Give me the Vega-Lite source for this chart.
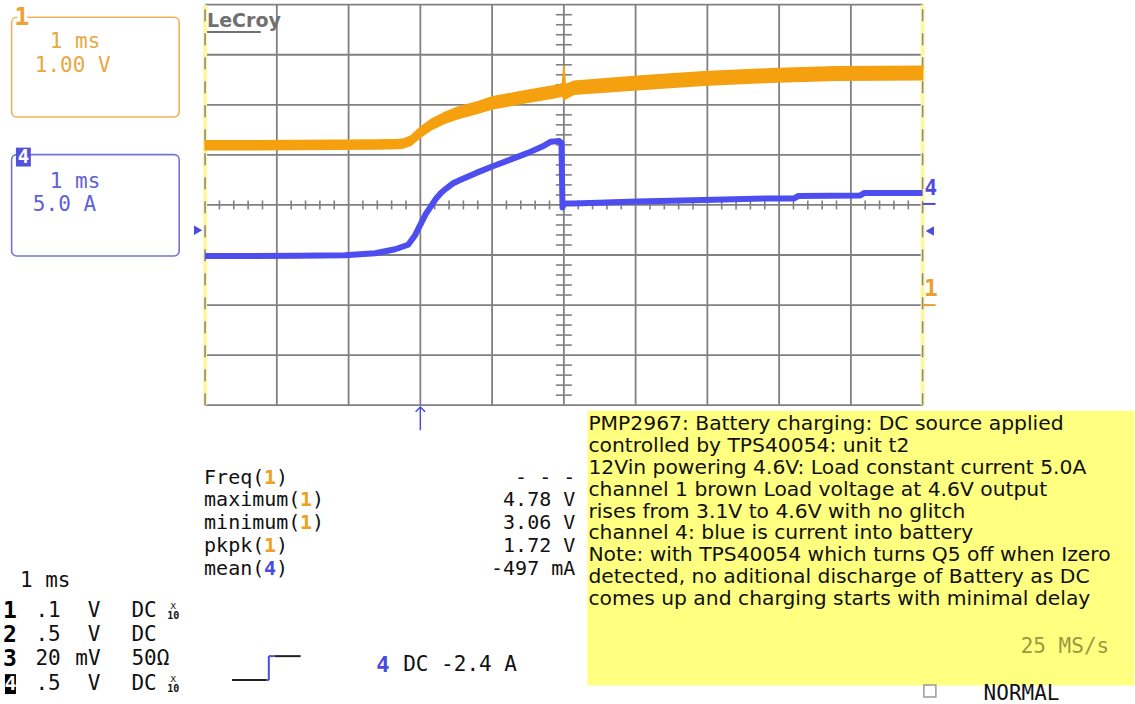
{
  "$schema": "https://vega.github.io/schema/vega-lite/v6.json",
  "width": 1135,
  "height": 704,
  "autosize": {"type": "fit", "contains": "padding"},
  "padding": 0,
  "background": "#ffffff",
  "config": {"view": {"stroke": null}},
  "datasets": {
    "one": [{}],
    "ch1": [
      {"t": -3.0, "lo": 3.1, "hi": 3.28}, {"t": -1.7, "lo": 3.105, "hi": 3.285}, {"t": -0.59, "lo": 3.115, "hi": 3.295},
      {"t": -0.31, "lo": 3.125, "hi": 3.305}, {"t": -0.24, "lo": 3.135, "hi": 3.315}, {"t": -0.13, "lo": 3.19, "hi": 3.38},
      {"t": -0.01, "lo": 3.34, "hi": 3.54}, {"t": 0.15, "lo": 3.5, "hi": 3.71}, {"t": 0.34, "lo": 3.63, "hi": 3.85},
      {"t": 0.52, "lo": 3.72, "hi": 3.95}, {"t": 0.8, "lo": 3.83, "hi": 4.06}, {"t": 1.01, "lo": 3.92, "hi": 4.16},
      {"t": 1.5, "lo": 4.05, "hi": 4.29}, {"t": 1.91, "lo": 4.15, "hi": 4.39}, {"t": 1.98, "lo": 4.18, "hi": 4.42},
      {"t": 2.0, "lo": 4.1, "hi": 4.78}, {"t": 2.02, "lo": 4.12, "hi": 4.4}, {"t": 2.14, "lo": 4.21, "hi": 4.47},
      {"t": 3.02, "lo": 4.3, "hi": 4.57}, {"t": 3.95, "lo": 4.39, "hi": 4.66}, {"t": 4.87, "lo": 4.45, "hi": 4.72},
      {"t": 5.8, "lo": 4.49, "hi": 4.76}, {"t": 7.0, "lo": 4.5, "hi": 4.77}
    ],
    "ch4": [
      {"t": -3.0, "a": -5.1}, {"t": -1.7, "a": -5.08}, {"t": -1.05, "a": -5.03}, {"t": -0.63, "a": -4.83},
      {"t": -0.35, "a": -4.43}, {"t": -0.17, "a": -3.98}, {"t": -0.08, "a": -3.11}, {"t": 0.015, "a": -1.77},
      {"t": 0.08, "a": -0.85}, {"t": 0.15, "a": -0.12}, {"t": 0.22, "a": 0.65}, {"t": 0.29, "a": 1.22},
      {"t": 0.36, "a": 1.64}, {"t": 0.45, "a": 2.14}, {"t": 0.57, "a": 2.54}, {"t": 0.78, "a": 3.2},
      {"t": 1.01, "a": 3.87}, {"t": 1.29, "a": 4.63}, {"t": 1.5, "a": 5.2}, {"t": 1.7, "a": 5.83},
      {"t": 1.82, "a": 6.32}, {"t": 1.935, "a": 6.38}, {"t": 1.967, "a": 6.18}, {"t": 1.981, "a": -0.25},
      {"t": 1.995, "a": 0.05}, {"t": 2.03, "a": 0.15}, {"t": 2.14, "a": 0.15}, {"t": 3.02, "a": 0.35},
      {"t": 3.95, "a": 0.5}, {"t": 4.87, "a": 0.65}, {"t": 5.21, "a": 0.65}, {"t": 5.27, "a": 0.9},
      {"t": 6.13, "a": 0.95}, {"t": 6.19, "a": 1.2}, {"t": 7.0, "a": 1.2}
    ],
    "vgrid": [{"t": -2}, {"t": -1}, {"t": 0}, {"t": 1}, {"t": 2}, {"t": 3}, {"t": 4}, {"t": 5}, {"t": 6}],
    "hgrid": [{"d": -4}, {"d": -3}, {"d": -2}, {"d": -1}, {"d": 0}, {"d": 1}, {"d": 2}, {"d": 3}, {"d": 4}],
    "edges": [{"t": -3}, {"t": 7}],
    "hticks": [
      {"t": -2.8}, {"t": -2.6}, {"t": -2.4}, {"t": -2.2}, {"t": -1.8}, {"t": -1.6}, {"t": -1.4}, {"t": -1.2},
      {"t": -0.8}, {"t": -0.6}, {"t": -0.4}, {"t": -0.2}, {"t": 0.2}, {"t": 0.4}, {"t": 0.6}, {"t": 0.8},
      {"t": 1.2}, {"t": 1.4}, {"t": 1.6}, {"t": 1.8}, {"t": 2.2}, {"t": 2.4}, {"t": 2.6}, {"t": 2.8},
      {"t": 3.2}, {"t": 3.4}, {"t": 3.6}, {"t": 3.8}, {"t": 4.2}, {"t": 4.4}, {"t": 4.6}, {"t": 4.8},
      {"t": 5.2}, {"t": 5.4}, {"t": 5.6}, {"t": 5.8}, {"t": 6.2}, {"t": 6.4}, {"t": 6.6}, {"t": 6.8}
    ],
    "vticks": [
      {"d": -3.8}, {"d": -3.6}, {"d": -3.4}, {"d": -3.2}, {"d": -2.8}, {"d": -2.6}, {"d": -2.4}, {"d": -2.2},
      {"d": -1.8}, {"d": -1.6}, {"d": -1.4}, {"d": -1.2}, {"d": -0.8}, {"d": -0.6}, {"d": -0.4}, {"d": -0.2},
      {"d": 0.2}, {"d": 0.4}, {"d": 0.6}, {"d": 0.8}, {"d": 1.2}, {"d": 1.4}, {"d": 1.6}, {"d": 1.8},
      {"d": 2.2}, {"d": 2.4}, {"d": 2.6}, {"d": 2.8}, {"d": 3.2}, {"d": 3.4}, {"d": 3.6}, {"d": 3.8}
    ],
    "boxtext": [
      {"txt": "1 ms", "t": -5.165, "d": 3.257, "ch": "1"},
      {"txt": "1.00 V", "t": -5.373, "d": 2.779, "ch": "1"},
      {"txt": "1 ms", "t": -5.165, "d": 0.468, "ch": "4"},
      {"txt": "5.0 A", "t": -5.4, "d": -0.01, "ch": "4"}
    ],
    "note": [
      {"line": "PMP2967: Battery charging: DC source applied", "d": -4.492},
      {"line": "controlled by TPS40054: unit t2", "d": -4.93},
      {"line": "12Vin powering 4.6V: Load constant current 5.0A", "d": -5.368},
      {"line": "channel 1 brown Load voltage at 4.6V output", "d": -5.806},
      {"line": "rises from 3.1V to 4.6V with no glitch", "d": -6.245},
      {"line": "channel 4: blue is current into battery", "d": -6.683},
      {"line": "Note: with TPS40054 which turns Q5 off when Izero", "d": -7.121},
      {"line": "detected, no aditional discharge of Battery as DC", "d": -7.559},
      {"line": "comes up and charging starts with minimal delay", "d": -7.998}
    ],
    "meas": [
      {"label": "Freq(", "ch": "1", "value": "- - -", "d": -5.568, "tc": -2.1787, "tp": -2.0117},
      {"label": "maximum(", "ch": "1", "value": "4.78 V", "d": -6.016, "tc": -1.6775, "tp": -1.5104},
      {"label": "minimum(", "ch": "1", "value": "3.06 V", "d": -6.474, "tc": -1.6775, "tp": -1.5104},
      {"label": "pkpk(", "ch": "1", "value": "1.72 V", "d": -6.932, "tc": -2.1787, "tp": -2.0117},
      {"label": "mean(", "ch": "4", "value": "-497 mA", "d": -7.39, "tc": -2.1787, "tp": -2.0117}
    ],
    "setup": [
      {"ch": "1", "val": ".1", "unit": "V", "cpl": "DC", "probe": "x10", "d": -8.118},
      {"ch": "2", "val": ".5", "unit": "V", "cpl": "DC", "probe": "", "d": -8.596},
      {"ch": "3", "val": "20", "unit": "mV", "cpl": "50Ω", "probe": "", "d": -9.074},
      {"ch": "4", "val": ".5", "unit": "V", "cpl": "DC", "probe": "x10", "d": -9.572}
    ],
    "trig": [
      {"part": "level", "t1": -2.625, "t2": -2.14, "d1": -9.492, "d2": -9.492},
      {"part": "edge", "t1": -2.14, "t2": -2.112, "d1": -9.492, "d2": -9.492},
      {"part": "edge", "t1": -2.112, "t2": -2.112, "d1": -9.492, "d2": -9.014},
      {"part": "edge", "t1": -2.112, "t2": -2.029, "d1": -9.014, "d2": -9.014},
      {"part": "level", "t1": -2.029, "t2": -1.668, "d1": -9.014, "d2": -9.014}
    ]
  },
  "layer": [
    {
      "layer": [
        {
          "data": {"name": "one"},
          "mark": {"type": "rect", "color": "#ffff80"},
          "encoding": {
            "x": {"datum": 2.328, "type": "quantitative", "scale": {"domain": [-5.858, 9.89], "nice": false, "zero": false}, "axis": null},
            "x2": {"datum": 9.95},
            "y": {"datum": -4.114, "type": "quantitative", "scale": {"domain": [-9.93, 4.094], "nice": false, "zero": false}, "axis": null},
            "y2": {"datum": -9.6}
          }
        },
        {
          "data": {"name": "vgrid"},
          "mark": {"type": "rule", "color": "#808080", "strokeWidth": 1.8},
          "encoding": {
            "x": {"field": "t", "type": "quantitative", "scale": {"domain": [-5.858, 9.89], "nice": false, "zero": false}, "axis": null},
            "y": {"datum": -4, "type": "quantitative", "scale": {"domain": [-9.93, 4.094], "nice": false, "zero": false}, "axis": null},
            "y2": {"datum": 4}
          }
        },
        {
          "data": {"name": "hgrid"},
          "mark": {"type": "rule", "color": "#808080", "strokeWidth": 1.8},
          "encoding": {
            "y": {"field": "d", "type": "quantitative", "scale": {"domain": [-9.93, 4.094], "nice": false, "zero": false}, "axis": null},
            "x": {"datum": -3, "type": "quantitative", "scale": {"domain": [-5.858, 9.89], "nice": false, "zero": false}, "axis": null},
            "x2": {"datum": 7}
          }
        },
        {
          "data": {"name": "edges"},
          "mark": {"type": "rule", "color": "#fff6a0", "strokeWidth": 4},
          "encoding": {
            "x": {"field": "t", "type": "quantitative", "scale": {"domain": [-5.858, 9.89], "nice": false, "zero": false}, "axis": null},
            "y": {"datum": -4, "type": "quantitative", "scale": {"domain": [-9.93, 4.094], "nice": false, "zero": false}, "axis": null},
            "y2": {"datum": 4}
          }
        },
        {
          "data": {"name": "edges"},
          "mark": {"type": "rule", "color": "#8a8a8a", "strokeWidth": 1.6, "strokeDash": [12, 12]},
          "encoding": {
            "x": {"field": "t", "type": "quantitative", "scale": {"domain": [-5.858, 9.89], "nice": false, "zero": false}, "axis": null},
            "y": {"datum": -4, "type": "quantitative", "scale": {"domain": [-9.93, 4.094], "nice": false, "zero": false}, "axis": null},
            "y2": {"datum": 4}
          }
        },
        {
          "data": {"name": "hticks"},
          "mark": {"type": "tick", "orient": "vertical", "size": 9, "thickness": 1.6, "color": "#808080", "opacity": 1},
          "encoding": {
            "x": {"field": "t", "type": "quantitative", "scale": {"domain": [-5.858, 9.89], "nice": false, "zero": false}, "axis": null},
            "y": {"datum": 0, "type": "quantitative", "scale": {"domain": [-9.93, 4.094], "nice": false, "zero": false}, "axis": null}
          }
        },
        {
          "data": {"name": "vticks"},
          "mark": {"type": "tick", "orient": "horizontal", "size": 16, "thickness": 1.6, "color": "#808080", "opacity": 1},
          "encoding": {
            "y": {"field": "d", "type": "quantitative", "scale": {"domain": [-9.93, 4.094], "nice": false, "zero": false}, "axis": null},
            "x": {"datum": 2, "type": "quantitative", "scale": {"domain": [-5.858, 9.89], "nice": false, "zero": false}, "axis": null}
          }
        },
        {
          "data": {"name": "one"},
          "mark": {"type": "text", "text": "LeCroy", "font": "DejaVu Sans", "fontWeight": "bold", "fontSize": 19, "color": "#707070", "align": "left", "baseline": "alphabetic"},
          "encoding": {
            "x": {"datum": -2.972, "type": "quantitative", "scale": {"domain": [-5.858, 9.89], "nice": false, "zero": false}, "axis": null},
            "y": {"datum": 3.556, "type": "quantitative", "scale": {"domain": [-9.93, 4.094], "nice": false, "zero": false}, "axis": null}
          }
        },
        {
          "data": {"name": "one"},
          "mark": {"type": "rule", "color": "#707070", "strokeWidth": 2},
          "encoding": {
            "x": {"datum": -2.972, "type": "quantitative", "scale": {"domain": [-5.858, 9.89], "nice": false, "zero": false}, "axis": null},
            "x2": {"datum": -2.223},
            "y": {"datum": 3.456, "type": "quantitative", "scale": {"domain": [-9.93, 4.094], "nice": false, "zero": false}, "axis": null}
          }
        },
        {
          "data": {"name": "one"},
          "mark": {"type": "rect", "fill": null, "stroke": "#efb45a", "strokeWidth": 1.6, "cornerRadius": 5},
          "encoding": {
            "x": {"datum": -5.696, "type": "quantitative", "scale": {"domain": [-5.858, 9.89], "nice": false, "zero": false}, "axis": null},
            "x2": {"datum": -3.361},
            "y": {"datum": 3.749, "type": "quantitative", "scale": {"domain": [-9.93, 4.094], "nice": false, "zero": false}, "axis": null},
            "y2": {"datum": 1.757}
          }
        },
        {
          "data": {"name": "one"},
          "mark": {"type": "rect", "fill": null, "stroke": "#7474d6", "strokeWidth": 1.6, "cornerRadius": 5},
          "encoding": {
            "x": {"datum": -5.696, "type": "quantitative", "scale": {"domain": [-5.858, 9.89], "nice": false, "zero": false}, "axis": null},
            "x2": {"datum": -3.361},
            "y": {"datum": 1.006, "type": "quantitative", "scale": {"domain": [-9.93, 4.094], "nice": false, "zero": false}, "axis": null},
            "y2": {"datum": -1.02}
          }
        },
        {
          "data": {"name": "one"},
          "mark": {"type": "text", "text": "1", "font": "DejaVu Sans Mono", "fontWeight": "bold", "fontSize": 25, "color": "#ffffff", "stroke": "#ffffff", "strokeWidth": 6, "align": "center", "baseline": "middle"},
          "encoding": {
            "x": {"datum": -5.553, "type": "quantitative", "scale": {"domain": [-5.858, 9.89], "nice": false, "zero": false}, "axis": null},
            "y": {"datum": 3.755, "type": "quantitative", "scale": {"domain": [-9.93, 4.094], "nice": false, "zero": false}, "axis": null}
          }
        },
        {
          "data": {"name": "one"},
          "mark": {"type": "text", "text": "1", "font": "DejaVu Sans Mono", "fontWeight": "bold", "fontSize": 25, "color": "#eaa338", "align": "center", "baseline": "middle"},
          "encoding": {
            "x": {"datum": -5.553, "type": "quantitative", "scale": {"domain": [-5.858, 9.89], "nice": false, "zero": false}, "axis": null},
            "y": {"datum": 3.755, "type": "quantitative", "scale": {"domain": [-9.93, 4.094], "nice": false, "zero": false}, "axis": null}
          }
        },
        {
          "data": {"name": "one"},
          "mark": {"type": "rect", "color": "#5252d8"},
          "encoding": {
            "x": {"datum": -5.636, "type": "quantitative", "scale": {"domain": [-5.858, 9.89], "nice": false, "zero": false}, "axis": null},
            "x2": {"datum": -5.428},
            "y": {"datum": 1.145, "type": "quantitative", "scale": {"domain": [-9.93, 4.094], "nice": false, "zero": false}, "axis": null},
            "y2": {"datum": 0.767}
          }
        },
        {
          "data": {"name": "one"},
          "mark": {"type": "text", "text": "4", "font": "DejaVu Sans Mono", "fontWeight": "bold", "fontSize": 19, "color": "#ffffff", "align": "center", "baseline": "middle"},
          "encoding": {
            "x": {"datum": -5.532, "type": "quantitative", "scale": {"domain": [-5.858, 9.89], "nice": false, "zero": false}, "axis": null},
            "y": {"datum": 0.956, "type": "quantitative", "scale": {"domain": [-9.93, 4.094], "nice": false, "zero": false}, "axis": null}
          }
        },
        {
          "data": {"name": "boxtext"},
          "transform": [{"filter": "datum.ch === '1'"}],
          "mark": {"type": "text", "font": "DejaVu Sans Mono", "fontSize": 21, "color": "#e8a842", "align": "left", "baseline": "middle"},
          "encoding": {
            "x": {"field": "t", "type": "quantitative", "scale": {"domain": [-5.858, 9.89], "nice": false, "zero": false}, "axis": null},
            "y": {"field": "d", "type": "quantitative", "scale": {"domain": [-9.93, 4.094], "nice": false, "zero": false}, "axis": null},
            "text": {"field": "txt"}
          }
        },
        {
          "data": {"name": "boxtext"},
          "transform": [{"filter": "datum.ch === '4'"}],
          "mark": {"type": "text", "font": "DejaVu Sans Mono", "fontSize": 21, "color": "#5f5fd6", "align": "left", "baseline": "middle"},
          "encoding": {
            "x": {"field": "t", "type": "quantitative", "scale": {"domain": [-5.858, 9.89], "nice": false, "zero": false}, "axis": null},
            "y": {"field": "d", "type": "quantitative", "scale": {"domain": [-9.93, 4.094], "nice": false, "zero": false}, "axis": null},
            "text": {"field": "txt"}
          }
        },
        {
          "data": {"name": "one"},
          "mark": {"type": "point", "shape": "triangle-right", "size": 90, "filled": true, "color": "#4b4be0", "opacity": 1},
          "encoding": {
            "x": {"datum": -3.097, "type": "quantitative", "scale": {"domain": [-5.858, 9.89], "nice": false, "zero": false}, "axis": null},
            "y": {"datum": -0.508, "type": "quantitative", "scale": {"domain": [-9.93, 4.094], "nice": false, "zero": false}, "axis": null}
          }
        },
        {
          "data": {"name": "one"},
          "mark": {"type": "point", "shape": "triangle-left", "size": 90, "filled": true, "color": "#4b4be0", "opacity": 1},
          "encoding": {
            "x": {"datum": 7.1, "type": "quantitative", "scale": {"domain": [-5.858, 9.89], "nice": false, "zero": false}, "axis": null},
            "y": {"datum": -0.522, "type": "quantitative", "scale": {"domain": [-9.93, 4.094], "nice": false, "zero": false}, "axis": null}
          }
        },
        {
          "data": {"name": "one"},
          "mark": {"type": "text", "text": "4", "font": "DejaVu Sans Mono", "fontWeight": "bold", "fontSize": 21, "color": "#4b4be0", "align": "center", "baseline": "middle"},
          "encoding": {
            "x": {"datum": 7.115, "type": "quantitative", "scale": {"domain": [-5.858, 9.89], "nice": false, "zero": false}, "axis": null},
            "y": {"datum": 0.309, "type": "quantitative", "scale": {"domain": [-9.93, 4.094], "nice": false, "zero": false}, "axis": null}
          }
        },
        {
          "data": {"name": "one"},
          "mark": {"type": "rule", "color": "#4b4be0", "strokeWidth": 2},
          "encoding": {
            "x": {"datum": 7.0, "type": "quantitative", "scale": {"domain": [-5.858, 9.89], "nice": false, "zero": false}, "axis": null},
            "x2": {"datum": 7.18},
            "y": {"datum": 0.02, "type": "quantitative", "scale": {"domain": [-9.93, 4.094], "nice": false, "zero": false}, "axis": null}
          }
        },
        {
          "data": {"name": "one"},
          "mark": {"type": "text", "text": "1", "font": "DejaVu Sans Mono", "fontWeight": "bold", "fontSize": 23, "color": "#eaa030", "align": "center", "baseline": "middle"},
          "encoding": {
            "x": {"datum": 7.115, "type": "quantitative", "scale": {"domain": [-5.858, 9.89], "nice": false, "zero": false}, "axis": null},
            "y": {"datum": -1.683, "type": "quantitative", "scale": {"domain": [-9.93, 4.094], "nice": false, "zero": false}, "axis": null}
          }
        },
        {
          "data": {"name": "one"},
          "mark": {"type": "rule", "color": "#eaa030", "strokeWidth": 2},
          "encoding": {
            "x": {"datum": 7.0, "type": "quantitative", "scale": {"domain": [-5.858, 9.89], "nice": false, "zero": false}, "axis": null},
            "x2": {"datum": 7.18},
            "y": {"datum": -2.0, "type": "quantitative", "scale": {"domain": [-9.93, 4.094], "nice": false, "zero": false}, "axis": null}
          }
        },
        {
          "data": {"name": "one"},
          "mark": {"type": "rule", "color": "#4b4be0", "strokeWidth": 1.5},
          "encoding": {
            "x": {"datum": 0, "type": "quantitative", "scale": {"domain": [-5.858, 9.89], "nice": false, "zero": false}, "axis": null},
            "y": {"datum": -4.04, "type": "quantitative", "scale": {"domain": [-9.93, 4.094], "nice": false, "zero": false}, "axis": null},
            "y2": {"datum": -4.5}
          }
        },
        {
          "data": {"name": "one"},
          "mark": {"type": "point", "shape": "M-1,0.7L0,-0.3L1,0.7", "size": 90, "filled": false, "stroke": "#4b4be0", "strokeWidth": 1.5, "opacity": 1},
          "encoding": {
            "x": {"datum": 0, "type": "quantitative", "scale": {"domain": [-5.858, 9.89], "nice": false, "zero": false}, "axis": null},
            "y": {"datum": -4.064, "type": "quantitative", "scale": {"domain": [-9.93, 4.094], "nice": false, "zero": false}, "axis": null}
          }
        },
        {
          "data": {"name": "note"},
          "mark": {"type": "text", "font": "DejaVu Sans", "fontSize": 20.3, "color": "#111111", "align": "left", "baseline": "alphabetic"},
          "encoding": {
            "x": {"datum": 2.342, "type": "quantitative", "scale": {"domain": [-5.858, 9.89], "nice": false, "zero": false}, "axis": null},
            "y": {"field": "d", "type": "quantitative", "scale": {"domain": [-9.93, 4.094], "nice": false, "zero": false}, "axis": null},
            "text": {"field": "line"}
          }
        },
        {
          "data": {"name": "one"},
          "mark": {"type": "text", "text": "25 MS/s", "font": "DejaVu Sans Mono", "fontSize": 21, "color": "#9a9a3e", "align": "right", "baseline": "alphabetic"},
          "encoding": {
            "x": {"datum": 9.6, "type": "quantitative", "scale": {"domain": [-5.858, 9.89], "nice": false, "zero": false}, "axis": null},
            "y": {"datum": -8.954, "type": "quantitative", "scale": {"domain": [-9.93, 4.094], "nice": false, "zero": false}, "axis": null}
          }
        },
        {
          "data": {"name": "one"},
          "mark": {"type": "text", "text": "NORMAL", "font": "DejaVu Sans Mono", "fontSize": 21, "color": "#111111", "align": "left", "baseline": "alphabetic"},
          "encoding": {
            "x": {"datum": 7.85, "type": "quantitative", "scale": {"domain": [-5.858, 9.89], "nice": false, "zero": false}, "axis": null},
            "y": {"datum": -9.884, "type": "quantitative", "scale": {"domain": [-9.93, 4.094], "nice": false, "zero": false}, "axis": null}
          }
        },
        {
          "data": {"name": "one"},
          "mark": {"type": "point", "shape": "square", "size": 144, "filled": false, "stroke": "#9a9a9a", "strokeWidth": 1.5, "opacity": 1},
          "encoding": {
            "x": {"datum": 7.101, "type": "quantitative", "scale": {"domain": [-5.858, 9.89], "nice": false, "zero": false}, "axis": null},
            "y": {"datum": -9.711, "type": "quantitative", "scale": {"domain": [-9.93, 4.094], "nice": false, "zero": false}, "axis": null}
          }
        },
        {
          "data": {"name": "meas"},
          "mark": {"type": "text", "font": "DejaVu Sans Mono", "fontSize": 20, "color": "#111111", "align": "left", "baseline": "alphabetic"},
          "encoding": {
            "x": {"datum": -3.014, "type": "quantitative", "scale": {"domain": [-5.858, 9.89], "nice": false, "zero": false}, "axis": null},
            "y": {"field": "d", "type": "quantitative", "scale": {"domain": [-9.93, 4.094], "nice": false, "zero": false}, "axis": null},
            "text": {"field": "label"}
          }
        },
        {
          "data": {"name": "meas"},
          "mark": {"type": "text", "text": ")", "font": "DejaVu Sans Mono", "fontSize": 20, "color": "#111111", "align": "left", "baseline": "alphabetic"},
          "encoding": {
            "x": {"field": "tp", "type": "quantitative", "scale": {"domain": [-5.858, 9.89], "nice": false, "zero": false}, "axis": null},
            "y": {"field": "d", "type": "quantitative", "scale": {"domain": [-9.93, 4.094], "nice": false, "zero": false}, "axis": null}
          }
        },
        {
          "data": {"name": "meas"},
          "transform": [{"filter": "datum.ch === '1'"}],
          "mark": {"type": "text", "font": "DejaVu Sans Mono", "fontWeight": "bold", "fontSize": 20, "color": "#eea020", "align": "left", "baseline": "alphabetic"},
          "encoding": {
            "x": {"field": "tc", "type": "quantitative", "scale": {"domain": [-5.858, 9.89], "nice": false, "zero": false}, "axis": null},
            "y": {"field": "d", "type": "quantitative", "scale": {"domain": [-9.93, 4.094], "nice": false, "zero": false}, "axis": null},
            "text": {"field": "ch"}
          }
        },
        {
          "data": {"name": "meas"},
          "transform": [{"filter": "datum.ch === '4'"}],
          "mark": {"type": "text", "font": "DejaVu Sans Mono", "fontWeight": "bold", "fontSize": 20, "color": "#4b4be0", "align": "left", "baseline": "alphabetic"},
          "encoding": {
            "x": {"field": "tc", "type": "quantitative", "scale": {"domain": [-5.858, 9.89], "nice": false, "zero": false}, "axis": null},
            "y": {"field": "d", "type": "quantitative", "scale": {"domain": [-9.93, 4.094], "nice": false, "zero": false}, "axis": null},
            "text": {"field": "ch"}
          }
        },
        {
          "data": {"name": "meas"},
          "mark": {"type": "text", "font": "DejaVu Sans Mono", "fontSize": 20, "color": "#111111", "align": "right", "baseline": "alphabetic"},
          "encoding": {
            "x": {"datum": 2.16, "type": "quantitative", "scale": {"domain": [-5.858, 9.89], "nice": false, "zero": false}, "axis": null},
            "y": {"field": "d", "type": "quantitative", "scale": {"domain": [-9.93, 4.094], "nice": false, "zero": false}, "axis": null},
            "text": {"field": "value"}
          }
        },
        {
          "data": {"name": "one"},
          "mark": {"type": "text", "text": "1 ms", "font": "DejaVu Sans Mono", "fontSize": 21, "color": "#111111", "align": "left", "baseline": "middle"},
          "encoding": {
            "x": {"datum": -5.581, "type": "quantitative", "scale": {"domain": [-5.858, 9.89], "nice": false, "zero": false}, "axis": null},
            "y": {"datum": -7.52, "type": "quantitative", "scale": {"domain": [-9.93, 4.094], "nice": false, "zero": false}, "axis": null}
          }
        },
        {
          "data": {"name": "setup"},
          "transform": [{"filter": "datum.ch !== '4'"}],
          "mark": {"type": "text", "font": "DejaVu Sans Mono", "fontWeight": "bold", "fontSize": 23, "color": "#000000", "align": "center", "baseline": "middle"},
          "encoding": {
            "x": {"datum": -5.72, "type": "quantitative", "scale": {"domain": [-5.858, 9.89], "nice": false, "zero": false}, "axis": null},
            "y": {"field": "d", "type": "quantitative", "scale": {"domain": [-9.93, 4.094], "nice": false, "zero": false}, "axis": null},
            "text": {"field": "ch"}
          }
        },
        {
          "data": {"name": "one"},
          "mark": {"type": "rect", "color": "#000000"},
          "encoding": {
            "x": {"datum": -5.789, "type": "quantitative", "scale": {"domain": [-5.858, 9.89], "nice": false, "zero": false}, "axis": null},
            "x2": {"datum": -5.636},
            "y": {"datum": -9.373, "type": "quantitative", "scale": {"domain": [-9.93, 4.094], "nice": false, "zero": false}, "axis": null},
            "y2": {"datum": -9.771}
          }
        },
        {
          "data": {"name": "setup"},
          "transform": [{"filter": "datum.ch === '4'"}],
          "mark": {"type": "text", "font": "DejaVu Sans Mono", "fontWeight": "bold", "fontSize": 20, "color": "#ffffff", "align": "center", "baseline": "middle"},
          "encoding": {
            "x": {"datum": -5.712, "type": "quantitative", "scale": {"domain": [-5.858, 9.89], "nice": false, "zero": false}, "axis": null},
            "y": {"field": "d", "type": "quantitative", "scale": {"domain": [-9.93, 4.094], "nice": false, "zero": false}, "axis": null},
            "text": {"field": "ch"}
          }
        },
        {
          "data": {"name": "setup"},
          "mark": {"type": "text", "font": "DejaVu Sans Mono", "fontSize": 21, "color": "#111111", "align": "right", "baseline": "middle"},
          "encoding": {
            "x": {"datum": -5.012, "type": "quantitative", "scale": {"domain": [-5.858, 9.89], "nice": false, "zero": false}, "axis": null},
            "y": {"field": "d", "type": "quantitative", "scale": {"domain": [-9.93, 4.094], "nice": false, "zero": false}, "axis": null},
            "text": {"field": "val"}
          }
        },
        {
          "data": {"name": "setup"},
          "mark": {"type": "text", "font": "DejaVu Sans Mono", "fontSize": 21, "color": "#111111", "align": "right", "baseline": "middle"},
          "encoding": {
            "x": {"datum": -4.457, "type": "quantitative", "scale": {"domain": [-5.858, 9.89], "nice": false, "zero": false}, "axis": null},
            "y": {"field": "d", "type": "quantitative", "scale": {"domain": [-9.93, 4.094], "nice": false, "zero": false}, "axis": null},
            "text": {"field": "unit"}
          }
        },
        {
          "data": {"name": "setup"},
          "mark": {"type": "text", "font": "DejaVu Sans Mono", "fontSize": 21, "color": "#111111", "align": "left", "baseline": "middle"},
          "encoding": {
            "x": {"datum": -4.027, "type": "quantitative", "scale": {"domain": [-5.858, 9.89], "nice": false, "zero": false}, "axis": null},
            "y": {"field": "d", "type": "quantitative", "scale": {"domain": [-9.93, 4.094], "nice": false, "zero": false}, "axis": null},
            "text": {"field": "cpl"}
          }
        },
        {
          "data": {"name": "setup"},
          "transform": [{"filter": "datum.probe !== ''"}],
          "mark": {"type": "text", "text": "x", "font": "DejaVu Sans Mono", "fontSize": 10, "color": "#111111", "align": "center", "baseline": "middle", "dy": -5},
          "encoding": {
            "x": {"datum": -3.444, "type": "quantitative", "scale": {"domain": [-5.858, 9.89], "nice": false, "zero": false}, "axis": null},
            "y": {"field": "d", "type": "quantitative", "scale": {"domain": [-9.93, 4.094], "nice": false, "zero": false}, "axis": null}
          }
        },
        {
          "data": {"name": "setup"},
          "transform": [{"filter": "datum.probe !== ''"}],
          "mark": {"type": "text", "text": "10", "font": "DejaVu Sans Mono", "fontWeight": "bold", "fontSize": 10, "color": "#111111", "align": "center", "baseline": "middle", "dy": 5},
          "encoding": {
            "x": {"datum": -3.444, "type": "quantitative", "scale": {"domain": [-5.858, 9.89], "nice": false, "zero": false}, "axis": null},
            "y": {"field": "d", "type": "quantitative", "scale": {"domain": [-9.93, 4.094], "nice": false, "zero": false}, "axis": null}
          }
        },
        {
          "data": {"name": "trig"},
          "transform": [{"filter": "datum.part === 'level'"}],
          "mark": {"type": "rule", "color": "#222222", "strokeWidth": 2},
          "encoding": {
            "x": {"field": "t1", "type": "quantitative", "scale": {"domain": [-5.858, 9.89], "nice": false, "zero": false}, "axis": null},
            "x2": {"field": "t2"},
            "y": {"field": "d1", "type": "quantitative", "scale": {"domain": [-9.93, 4.094], "nice": false, "zero": false}, "axis": null},
            "y2": {"field": "d2"}
          }
        },
        {
          "data": {"name": "trig"},
          "transform": [{"filter": "datum.part === 'edge'"}],
          "mark": {"type": "rule", "color": "#4b4be0", "strokeWidth": 2},
          "encoding": {
            "x": {"field": "t1", "type": "quantitative", "scale": {"domain": [-5.858, 9.89], "nice": false, "zero": false}, "axis": null},
            "x2": {"field": "t2"},
            "y": {"field": "d1", "type": "quantitative", "scale": {"domain": [-9.93, 4.094], "nice": false, "zero": false}, "axis": null},
            "y2": {"field": "d2"}
          }
        },
        {
          "data": {"name": "one"},
          "mark": {"type": "text", "text": "4", "font": "DejaVu Sans Mono", "fontWeight": "bold", "fontSize": 22, "color": "#4b4be0", "align": "left", "baseline": "middle"},
          "encoding": {
            "x": {"datum": -0.613, "type": "quantitative", "scale": {"domain": [-5.858, 9.89], "nice": false, "zero": false}, "axis": null},
            "y": {"datum": -9.193, "type": "quantitative", "scale": {"domain": [-9.93, 4.094], "nice": false, "zero": false}, "axis": null}
          }
        },
        {
          "data": {"name": "one"},
          "mark": {"type": "text", "text": "DC -2.4 A", "font": "DejaVu Sans Mono", "fontSize": 21, "color": "#111111", "align": "left", "baseline": "middle"},
          "encoding": {
            "x": {"datum": -0.239, "type": "quantitative", "scale": {"domain": [-5.858, 9.89], "nice": false, "zero": false}, "axis": null},
            "y": {"datum": -9.193, "type": "quantitative", "scale": {"domain": [-9.93, 4.094], "nice": false, "zero": false}, "axis": null}
          }
        }
      ]
    },
    {
      "data": {"name": "ch1"},
      "mark": {"type": "area", "color": "#f5a00f", "opacity": 1, "stroke": "#f5a00f", "strokeWidth": 1.5},
      "encoding": {
        "x": {"field": "t", "type": "quantitative", "scale": {"domain": [-5.858, 9.89], "nice": false, "zero": false}, "axis": null},
        "y": {"field": "lo", "type": "quantitative", "scale": {"domain": [-7.93, 6.094], "nice": false, "zero": false}, "axis": null},
        "y2": {"field": "hi"}
      }
    },
    {
      "data": {"name": "ch4"},
      "mark": {"type": "line", "color": "#4d4df0", "strokeWidth": 6, "strokeJoin": "round"},
      "encoding": {
        "x": {"field": "t", "type": "quantitative", "scale": {"domain": [-5.858, 9.89], "nice": false, "zero": false}, "axis": null},
        "y": {"field": "a", "type": "quantitative", "scale": {"domain": [-49.65, 20.47], "nice": false, "zero": false}, "axis": null}
      }
    }
  ],
  "resolve": {"scale": {"y": "independent"}}
}
